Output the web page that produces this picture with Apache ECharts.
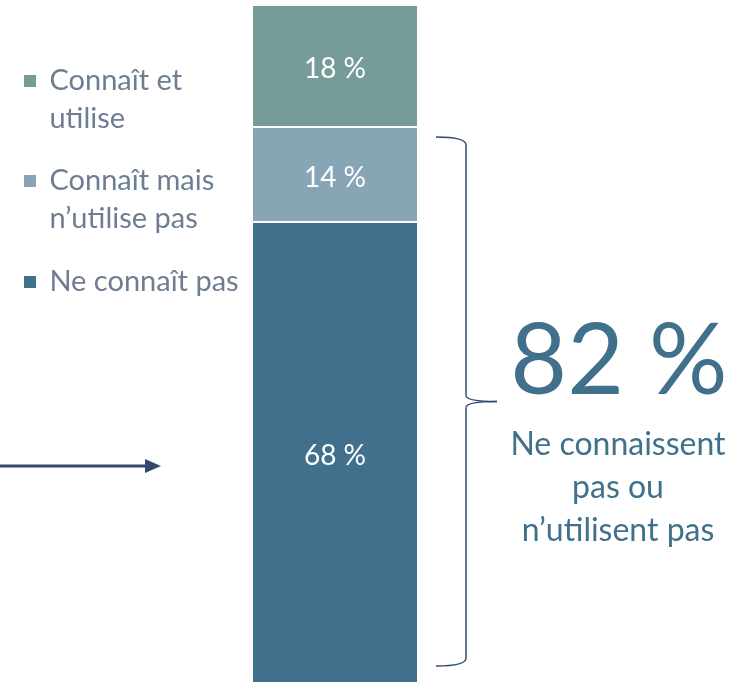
<!DOCTYPE html>
<html>
<head>
<meta charset="utf-8">
<script src="https://cdn.jsdelivr.net/npm/echarts@6/dist/echarts.min.js"></script>
<style>
  html, body { margin: 0; padding: 0; background: #ffffff; }
  #chart { width: 749px; height: 683px; }
</style>
</head>
<body>
<div id="chart"></div>
<script>
// Awareness / usage shares (percent), stacked bottom to top
const categories = ['Total'];
const seriesNames = ['Ne connaît pas', 'Connaît mais n’utilise pas', 'Connaît et utilise'];
const seriesValues = [[68], [14], [18]];
const seriesColors = ['#40708B', '#87A5B5', '#769B98'];
const legendLabels = {
  'Connaît et utilise': ['Connaît et', 'utilise'],
  'Connaît mais n’utilise pas': ['Connaît mais', 'n’utilise pas'],
  'Ne connaît pas': ['Ne connaît pas']
};
const legendOrder = ['Connaît et utilise', 'Connaît mais n’utilise pas', 'Ne connaît pas'];
const legendTops = [24, 124, 263];
const totalLabel = '82 %';
const totalCaption = ['Ne connaissent', 'pas ou', 'n’utilisent pas'];

const FONT = 'Lato';
const LEGEND_LINE = 38;
const BRACE_COLOR = '#2E4A70';

const chart = echarts.init(document.getElementById('chart'), null, { renderer: 'canvas' });

// One legend per entry; wrapped labels get a blank leading line so the
// swatch sits level with the first line of text.
const legends = legendOrder.map((name, i) => {
  const lines = legendLabels[name].map(l => '\u00a0' + l);
  const text = lines.length > 1 ? '\u00a0\n' + lines.join('\n') : lines[0];
  return {
    data: [name],
    left: 22,
    top: legendTops[i],
    padding: 0,
    itemWidth: 14,
    itemHeight: 14,
    icon: 'rect',
    selectedMode: false,
    formatter: () => text,
    textStyle: {
      fontFamily: FONT,
      fontSize: 29,
      color: '#6E7E92',
      lineHeight: LEGEND_LINE
    }
  };
});

const series = seriesNames.map((name, i) => ({
  name: name,
  type: 'bar',
  stack: 'total',
  barWidth: '100%',
  data: seriesValues[i],
  itemStyle: { color: seriesColors[i], borderColor: '#ffffff', borderWidth: 1 },
  label: {
    show: true,
    position: 'inside',
    offset: [0, 3],
    formatter: '{c} %',
    color: '#ffffff',
    fontFamily: FONT,
    fontSize: 28
  },
  emphasis: { disabled: true }
}));

chart.setOption({
  animation: false,
  backgroundColor: '#ffffff',
  legend: legends,
  grid: { left: 252, width: 166, top: 5, bottom: 0, containLabel: false },
  xAxis: { type: 'category', data: categories, show: false },
  yAxis: { type: 'value', min: 0, max: 100, show: false },
  series: series
});

// Brace spanning the two "not using" segments, plus total annotation
const yTop = chart.convertToPixel({ seriesIndex: 0 }, [0, 82])[1] + 10;
const yBot = chart.convertToPixel({ seriesIndex: 0 }, [0, 0])[1] - 17;
const yMid = (yTop + yBot) / 2;
const bx0 = 436, bx = 466, tip = 497;
const braceStyle = { fill: null, stroke: BRACE_COLOR, lineWidth: 1.5 };
const curve = (x1, y1, cx, cy, x2, y2) => ({
  type: 'bezierCurve',
  shape: { x1: x1, y1: y1, cpx1: cx, cpy1: cy, x2: x2, y2: y2 },
  style: braceStyle
});
const seg = (x1, y1, x2, y2) => ({
  type: 'line',
  shape: { x1: x1, y1: y1, x2: x2, y2: y2 },
  style: braceStyle
});

chart.setOption({
  graphic: [
    {
      type: 'group',
      children: [
        curve(bx0, yTop, bx, yTop, bx, yTop + 8),
        seg(bx, yTop + 8, bx, yMid - 6),
        curve(bx, yMid - 6, bx, yMid, tip, yMid),
        curve(tip, yMid, bx, yMid, bx, yMid + 6),
        seg(bx, yMid + 6, bx, yBot - 8),
        curve(bx, yBot - 8, bx, yBot, bx0, yBot)
      ]
    },
    {
      type: 'text',
      x: 619, y: 411,
      style: {
        text: totalLabel,
        fontFamily: FONT,
        fontSize: 98,
        fill: '#40708B',
        align: 'center',
        verticalAlign: 'bottom'
      }
    },
    {
      type: 'text',
      x: 618, y: 423,
      style: {
        text: totalCaption.join('\n'),
        fontFamily: FONT,
        fontSize: 32,
        lineHeight: 43,
        fill: '#40708B',
        align: 'center',
        verticalAlign: 'top'
      }
    },
    {
      type: 'line',
      shape: { x1: 0, y1: 466, x2: 148, y2: 466 },
      style: { stroke: '#34496F', lineWidth: 3 }
    },
    {
      type: 'polygon',
      shape: { points: [[145, 459], [161, 466], [145, 473]] },
      style: { fill: '#34496F' }
    }
  ]
});
</script>
</body>
</html>
